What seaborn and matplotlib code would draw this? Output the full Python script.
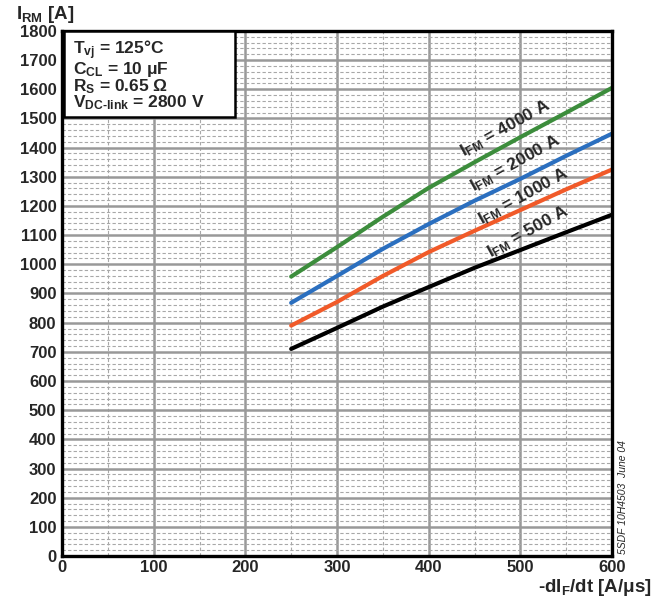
import numpy as np
import pandas as pd
import matplotlib
matplotlib.use("Agg")
import matplotlib.pyplot as plt
import seaborn as sns
from matplotlib.ticker import MultipleLocator
from matplotlib.patches import Rectangle

# ----------------------------
# data
# ----------------------------
didt = [250, 300, 350, 400, 450, 500, 550, 600]
irm_500 = [710, 782, 855, 922, 988, 1049, 1110, 1170]
irm_1000 = [790, 871, 960, 1042, 1115, 1186, 1257, 1325]
irm_2000 = [868, 960, 1053, 1138, 1218, 1293, 1372, 1448]
irm_4000 = [958, 1059, 1163, 1262, 1350, 1436, 1520, 1605]

series_names = ["500", "1000", "2000", "4000"]
series_colors = ["#000000", "#f15a29", "#2b6fbf", "#3c8d3c"]

cond_lines = [
    "T$_{\\mathrm{vj}}$ = 125°C",
    "C$_{\\mathrm{CL}}$ = 10 μF",
    "R$_{\\mathrm{S}}$ = 0.65 Ω",
    "V$_{\\mathrm{DC\\text{-}link}}$ = 2800 V",
]

df = pd.DataFrame({
    "didt": didt * 4,
    "irm": irm_500 + irm_1000 + irm_2000 + irm_4000,
    "ifm": sum([[n] * len(didt) for n in series_names], []),
})

sns.set_style("white")
plt.rcParams["font.family"] = ["Liberation Sans", "DejaVu Sans"]
plt.rcParams["font.weight"] = "bold"
plt.rcParams["mathtext.fontset"] = "custom"
plt.rcParams["mathtext.rm"] = "Liberation Sans:bold"
plt.rcParams["mathtext.it"] = "Liberation Sans:bold"
plt.rcParams["mathtext.bf"] = "Liberation Sans:bold"

fig = plt.figure(figsize=(6.54, 5.98), dpi=100)
ax = fig.add_axes([0.0948, 0.0702, 0.8410, 0.8780])

sns.lineplot(
    data=df,
    x="didt",
    y="irm",
    hue="ifm",
    hue_order=series_names,
    palette=series_colors,
    linewidth=3.0,
    legend=False,
    ax=ax,
)

ax.set_xlim(0, 600)
ax.set_ylim(0, 1800)
ax.xaxis.set_major_locator(MultipleLocator(100))
ax.xaxis.set_minor_locator(MultipleLocator(50))
ax.yaxis.set_major_locator(MultipleLocator(100))
ax.yaxis.set_minor_locator(MultipleLocator(20))

ax.grid(which="major", color="#999999", linewidth=1.8, linestyle="-")
ax.grid(which="minor", color="#a8a8a8", linewidth=0.8, linestyle=(0, (3, 2)))
ax.set_axisbelow(True)

ax.tick_params(which="both", length=0, labelsize=12, pad=4)
ax.tick_params(axis="x", pad=3)
for lab in ax.get_xticklabels() + ax.get_yticklabels():
    lab.set_fontweight("bold")

for sp in ax.spines.values():
    sp.set_linewidth(2.4)
    sp.set_color("black")

ax.set_xlabel("")
ax.set_ylabel("")

fig.text(0.024, 0.968, r"I$_{\mathrm{RM}}$ [A]", fontsize=13.5,
         fontweight="bold", va="baseline")
fig.text(0.997, 0.010, r"-dI$_{\mathrm{F}}$/dt [A/μs]", fontsize=13.5,
         fontweight="bold", ha="right", va="baseline")

# conditions box
ax.add_patch(Rectangle((0.004, 0.836), 0.311, 0.164, transform=ax.transAxes,
                       facecolor="white", edgecolor="black", linewidth=1.8,
                       zorder=5))
ax.text(0.02, 0.986, "\n".join(cond_lines), transform=ax.transAxes,
        fontsize=12.5, fontweight="bold", va="top", linespacing=0.86,
        zorder=6)

# curve labels
label_pos = [(508, 1112), (503, 1233), (495, 1346), (484, 1466)]
for name, (lx, ly) in zip(series_names, label_pos):
    ax.text(lx, ly, r"I$_{\mathrm{FM}}$ = " + name + " A", fontsize=12.5,
            fontweight="bold", rotation=29, ha="center", va="center",
            rotation_mode="anchor")

ax.text(1.011, 0.112, "5SDF 10H4503  June 04", transform=ax.transAxes,
        rotation=90, fontsize=7.5, style="italic", fontweight="normal",
        ha="left", va="center")

fig.savefig("out.png", dpi=100)
